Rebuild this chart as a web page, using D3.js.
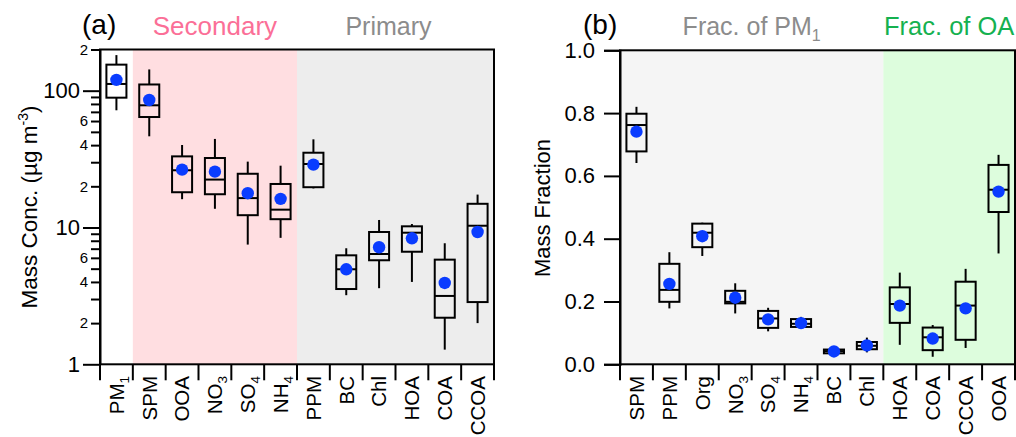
<!DOCTYPE html>
<html><head><meta charset="utf-8">
<script src="https://cdn.jsdelivr.net/npm/d3@7"></script>
<style>body{margin:0;background:#fff}svg{display:block}text{font-family:"Liberation Sans",Arial,sans-serif}</style>
</head><body><svg id="c" width="1016" height="437"></svg>
<script>
// ---------- data (a) ----------
const leftCats    = ["PM_1","SPM","OOA","NO_3","SO_4","NH_4","PPM","BC","Chl","HOA","COA","CCOA"];
const leftWhiskLo = [71.9, 46.4, 16.1, 13.7, 7.5, 8.4, 19.3, 3.2, 3.6, 4.0, 1.28, 2.0];
const leftQ1      = [88.9, 64.2, 18.1, 17.5, 12.3, 11.5, 19.7, 3.55, 5.76, 6.65, 2.19, 2.85];
const leftMedian  = [112, 78.2, 26.2, 22.4, 16.4, 13.5, 29.1, 4.95, 6.4, 9.16, 3.16, 10.3];
const leftQ3      = [155, 111, 33.1, 32.2, 24.7, 20.8, 35.2, 6.26, 9.27, 10.2, 5.82, 14.9];
const leftWhiskHi = [182, 143, 40.1, 44.4, 30.3, 28.3, 44.1, 7.05, 11.35, 10.6, 7.67, 17.4];
const leftMean    = [120, 85.5, 26.5, 25.6, 17.8, 16.2, 28.8, 4.95, 7.17, 8.34, 3.93, 9.27];
const leftGroups  = [{label:"Secondary", from:"SPM", to:"NH_4"}, {label:"Primary", from:"PPM", to:"CCOA"}];
const leftTickVals = [1,2,3,4,5,6,7,8,9,10,20,30,40,50,60,70,80,90,100,200];
const leftMajor   = [1,10,100];
const leftMinorLabeled = [2,4,6,20,40,60,200];

// ---------- data (b) ----------
const rightCats    = ["SPM","PPM","Org","NO_3","SO_4","NH_4","BC","Chl","HOA","COA","CCOA","OOA"];
const rightWhiskLo = [0.641, 0.178, 0.345, 0.162, 0.105, 0.117, 0.034, 0.038, 0.062, 0.024, 0.052, 0.353];
const rightQ1      = [0.678, 0.199, 0.373, 0.194, 0.116, 0.119, 0.035, 0.048, 0.132, 0.045, 0.078, 0.485];
const rightMedian  = [0.762, 0.237, 0.419, 0.199, 0.146, 0.129, 0.042, 0.059, 0.192, 0.086, 0.187, 0.556];
const rightQ3      = [0.798, 0.320, 0.448, 0.234, 0.170, 0.144, 0.047, 0.071, 0.245, 0.117, 0.263, 0.635];
const rightWhiskHi = [0.820, 0.357, 0.451, 0.258, 0.180, 0.151, 0.048, 0.085, 0.292, 0.125, 0.304, 0.667];
const rightMean    = [0.741, 0.256, 0.408, 0.212, 0.143, 0.131, 0.041, 0.060, 0.187, 0.082, 0.178, 0.550];
const rightGroups  = [{label:"Frac. of PM_1", from:"SPM", to:"Chl"}, {label:"Frac. of OA", from:"HOA", to:"OOA"}];
const rightTickVals = [0, 0.2, 0.4, 0.6, 0.8, 1.0];

const svg = d3.select("#c");
const FONT = "'Liberation Sans',Arial,sans-serif";

function addLabel(sel, s, subSize, subDy) {
  const parts = s.split("_");
  sel.append("tspan").text(parts[0]);
  if (parts[1]) sel.append("tspan").attr("font-size", subSize).attr("dy", subDy).text(parts[1]);
}

function panel(o) {
  const g = svg.append("g");
  const x = d3.scaleBand().domain(o.cats).range([o.x0, o.x1]);
  const y = o.y;
  const bw = x.bandwidth();
  o.groups.forEach((gr, i) => {
    const xa = x(gr.from), xb = x(gr.to) + bw;
    g.append("rect").attr("x", xa).attr("y", o.yTop).attr("width", xb - xa).attr("height", o.yBot - o.yTop).attr("fill", o.fills[i]);
    const t = g.append("text").attr("x", (xa + xb) / 2 + o.headDx[i]).attr("y", 35)
      .attr("text-anchor", "middle").attr("font-size", o.headSize[i]).attr("fill", o.headColors[i]);
    addLabel(t, gr.label, 16, 6);
  });
  g.append("rect").attr("x", o.x0).attr("y", o.yTop).attr("width", o.x1 - o.x0).attr("height", o.yBot - o.yTop)
    .attr("fill", "none").attr("stroke", "#000").attr("stroke-width", 2);
  g.append("text").attr("x", o.tagX).attr("y", 34).attr("font-size", 28).text(o.tag);

  const bx = bw * 0.61;
  const data = o.cats.map((c, i) => ({c, lo:o.lo[i], q1:o.q1[i], med:o.med[i], q3:o.q3[i], hi:o.hi[i], mean:o.mean[i]}));
  const b = g.selectAll(".box").data(data).join("g").attr("transform", d => `translate(${x(d.c) + bw / 2},0)`);
  b.append("line").attr("y1", d => y(d.hi)).attr("y2", d => y(d.q3)).attr("stroke", "#000").attr("stroke-width", 2);
  b.append("line").attr("y1", d => y(d.q1)).attr("y2", d => y(d.lo)).attr("stroke", "#000").attr("stroke-width", 2);
  b.append("rect").attr("x", -bx / 2).attr("width", bx).attr("y", d => y(d.q3)).attr("height", d => y(d.q1) - y(d.q3))
    .attr("fill", "none").attr("stroke", "#000").attr("stroke-width", 2);
  b.append("line").attr("x1", -bx / 2).attr("x2", bx / 2).attr("y1", d => y(d.med)).attr("y2", d => y(d.med)).attr("stroke", "#000").attr("stroke-width", 2);
  b.append("circle").attr("cy", d => y(d.mean)).attr("r", 6.2).attr("fill", "#0a3cff");

  const bounds = o.cats.map(c => x(c)).concat([o.x1]);
  g.selectAll(".xt").data(bounds).join("line").attr("x1", d => d).attr("x2", d => d)
    .attr("y1", o.yBot).attr("y2", o.yBot + 16).attr("stroke", "#000").attr("stroke-width", 2);
  g.selectAll(".xl").data(o.cats).join("text")
    .attr("transform", d => `translate(${x(d) + bw / 2 + 7.3},376) rotate(-90)`)
    .attr("text-anchor", "end").attr("font-size", 20.5)
    .each(function(d){ addLabel(d3.select(this), d, 13.5, 5); });
  return {g, x};
}

// ---------- panel (a) ----------
const yL = d3.scaleLog().domain([1, 200]).range([364.3, 49.5]);
panel({cats:leftCats, x0:100, x1:494, yTop:49.5, yBot:364.3, y:yL,
  lo:leftWhiskLo, q1:leftQ1, med:leftMedian, q3:leftQ3, hi:leftWhiskHi, mean:leftMean,
  groups:leftGroups, fills:["#ffdee1","#ededed"], headColors:["#fb6f97","#8c8c8c"], headDx:[0,-7], headSize:[26,25],
  tag:"(a)", tagX:82});
const axL = d3.axisLeft(yL).tickValues(leftTickVals).tickSizeOuter(0)
  .tickFormat(d => leftMajor.includes(d) ? String(d) : (leftMinorLabeled.includes(d) ? String(d).charAt(0) : ""));
const gL = svg.append("g").attr("transform", "translate(100,0)").call(axL);
gL.select(".domain").attr("stroke-width", 2);
gL.selectAll(".tick line").attr("stroke-width", 2).attr("x2", d => leftMajor.includes(d) ? -17 : -9);
gL.selectAll(".tick text").attr("font-family", FONT).attr("fill", "#000")
  .attr("font-size", d => leftMajor.includes(d) ? 22 : 15)
  .attr("x", d => leftMajor.includes(d) ? -20 : -12);
const tL = svg.append("text").attr("transform", "translate(37,207) rotate(-90)").attr("text-anchor", "middle").attr("font-size", 22.5);
tL.append("tspan").text("Mass Conc. (µg m");
tL.append("tspan").attr("font-size", 14).attr("dy", -9).text("-3");
tL.append("tspan").attr("dy", 9).text(")");

// ---------- panel (b) ----------
const yR = d3.scaleLinear().domain([0, 1]).range([364.3, 50.3]);
panel({cats:rightCats, x0:620, x1:1015, yTop:50.3, yBot:364.3, y:yR,
  lo:rightWhiskLo, q1:rightQ1, med:rightMedian, q3:rightQ3, hi:rightWhiskHi, mean:rightMean,
  groups:rightGroups, fills:["#f5f5f5","#ddfddd"], headColors:["#8c8c8c","#15b150"], headDx:[0,0], headSize:[25,25.5],
  tag:"(b)", tagX:583});
const axR = d3.axisLeft(yR).tickValues(rightTickVals).tickSizeOuter(0).tickSize(16).tickPadding(9).tickFormat(d3.format(".1f"));
const gR = svg.append("g").attr("transform", "translate(620,0)").call(axR);
gR.select(".domain").attr("stroke-width", 2);
gR.selectAll(".tick line").attr("stroke-width", 2);
gR.selectAll(".tick text").attr("font-family", FONT).attr("fill", "#000").attr("font-size", 22);
svg.append("text").attr("transform", "translate(550,208) rotate(-90)").attr("text-anchor", "middle").attr("font-size", 22).text("Mass Fraction");
</script></body></html>
